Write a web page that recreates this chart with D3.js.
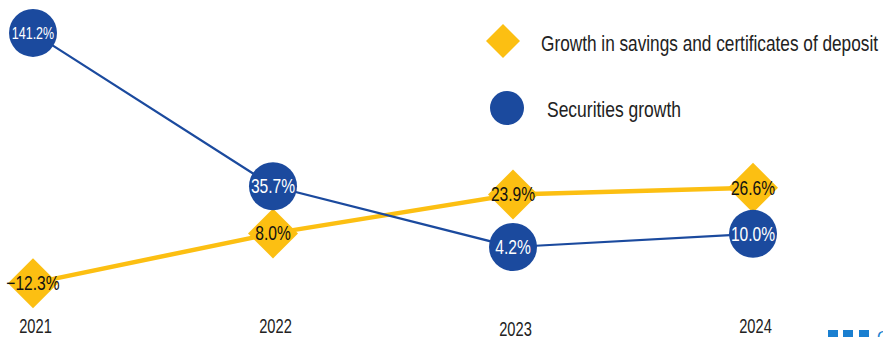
<!DOCTYPE html>
<html>
<head>
<meta charset="utf-8">
<script src="https://cdn.jsdelivr.net/npm/d3@7/dist/d3.min.js"></script>
<style>
  html, body { margin: 0; padding: 0; background: #fff; }
  svg { display: block; }
  text { font-family: "Liberation Sans Narrow", "Arial Narrow", "Liberation Sans", sans-serif; }
</style>
</head>
<body>
<svg id="chart" width="883" height="337"></svg>
<script>
// ---- data ----
const years = ["2021", "2022", "2023", "2024"];
const savingsGrowth = [-12.3, 8.0, 23.9, 26.6];
const securitiesGrowth = [141.2, 35.7, 4.2, 10.0];
const seriesNames = ["Growth in savings and certificates of deposit", " Securities growth"];

const BLUE = "#1b4a9e", YELLOW = "#fcbf12";
const svg = d3.select("#chart");

const x = d3.scalePoint().domain(years).range([33, 753]);
const ySav = d3.scaleLinear().domain([-20, 40]).range([302, 155]);
const ySec = d3.scalePow().exponent(0.82).domain([0, 150]).range([259.7, 21.4]);

const fmt = v => (v < 0 ? "\u2212" + Math.abs(v).toFixed(1) : v.toFixed(1)) + "%";
const SX = 0.78; // horizontal condensing to mimic a narrow typeface

const sav = years.map((y, i) => ({ year: y, v: savingsGrowth[i] }));
const sec = years.map((y, i) => ({ year: y, v: securitiesGrowth[i] }));

// savings line + markers
svg.append("path").datum(sav)
  .attr("fill", "none").attr("stroke", YELLOW).attr("stroke-width", 4.5)
  .attr("d", d3.line().x(d => x(d.year)).y(d => ySav(d.v)));
const diamond = d3.symbol().type(d3.symbolSquare).size(1250);
svg.selectAll(".dia").data(sav).join("path")
  .attr("d", diamond)
  .attr("transform", d => `translate(${x(d.year)},${ySav(d.v)}) rotate(45)`)
  .attr("fill", YELLOW);

// securities line + markers
svg.append("path").datum(sec)
  .attr("fill", "none").attr("stroke", BLUE).attr("stroke-width", 2.2)
  .attr("d", d3.line().x(d => x(d.year)).y(d => ySec(d.v)));
svg.selectAll(".dot").data(sec).join("circle")
  .attr("cx", d => x(d.year)).attr("cy", d => ySec(d.v)).attr("r", 24)
  .attr("fill", BLUE);

// labels
svg.selectAll(".savlab").data(sav).join("text")
  .attr("transform", d => `translate(${x(d.year)},${ySav(d.v)}) scale(${SX},1)`)
  .attr("text-anchor", "middle").attr("dominant-baseline", "central")
  .attr("font-size", 20).attr("fill", "#111")
  .text(d => fmt(d.v));
svg.selectAll(".seclab").data(sec).join("text")
  .attr("transform", d => `translate(${x(d.year)},${ySec(d.v)}) scale(${SX},1)`)
  .attr("text-anchor", "middle").attr("dominant-baseline", "central")
  .attr("font-size", d => d.v > 100 ? 16 : 20).attr("fill", "#fff")
  .text(d => fmt(d.v));

// x axis (no line, no ticks)
const ax = svg.append("g").attr("transform", "translate(2,318)")
  .call(d3.axisBottom(x).tickSize(0).tickPadding(0));
ax.select(".domain").remove();
ax.selectAll(".tick text")
  .attr("font-family", "'Liberation Sans Narrow', 'Arial Narrow', 'Liberation Sans', sans-serif")
  .attr("font-size", 21).attr("fill", "#222")
  .attr("transform", "scale(0.7,1)")
  .attr("dy", (d, i) => i === 2 ? "0.85em" : "0.7em");

// legend
const leg = svg.append("g");
leg.append("path").attr("d", d3.symbol().type(d3.symbolSquare).size(578))
  .attr("transform", "translate(503,41) rotate(45)").attr("fill", YELLOW);
leg.append("circle").attr("cx", 507).attr("cy", 108).attr("r", 17).attr("fill", BLUE);
leg.append("text").attr("x", 541).attr("y", 50.5).attr("font-size", 22)
  .attr("fill", "#222").attr("textLength", 337).attr("lengthAdjust", "spacingAndGlyphs")
  .text(seriesNames[0]);
leg.append("text").attr("x", 547).attr("y", 117).attr("font-size", 22)
  .attr("fill", "#222").attr("textLength", 134).attr("lengthAdjust", "spacingAndGlyphs")
  .text(seriesNames[1].trim());

// corner logo mark
const logo = svg.append("g").attr("fill", "#1a7fd0");
[828, 843, 859].forEach(px => logo.append("rect").attr("x", px).attr("y", 330).attr("width", 10).attr("height", 7));
logo.append("text").attr("x", 877).attr("y", 343).attr("font-size", 16).attr("font-family", "Liberation Sans, sans-serif").text("C");
</script>
</body>
</html>
